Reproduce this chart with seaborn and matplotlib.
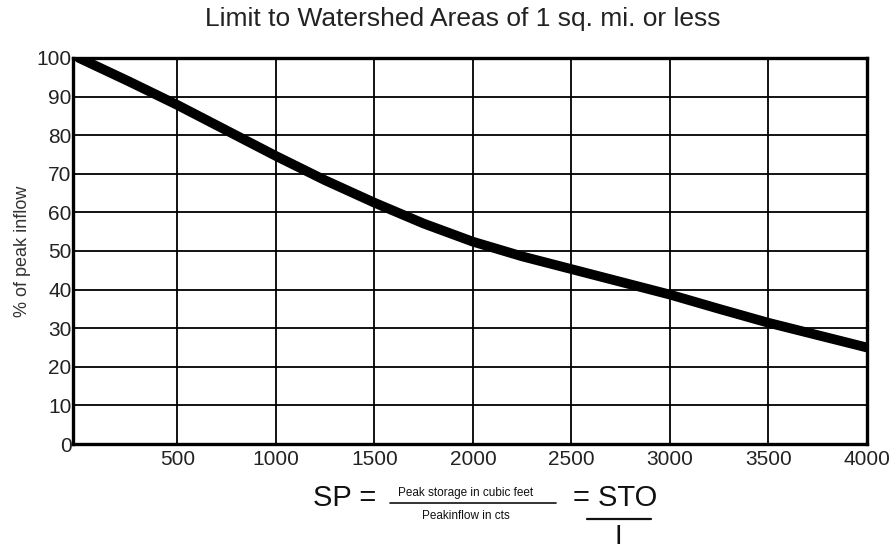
import matplotlib
matplotlib.use("Agg")
import matplotlib.pyplot as plt
import seaborn as sns
import pandas as pd
from matplotlib.lines import Line2D

# storage (x) vs % of peak inflow (y)
storage = [0, 250, 500, 750, 1000, 1250, 1500, 1750, 2000, 2250, 2500, 2750, 3000, 3250, 3500, 3750, 4000]
pct_inflow = [100, 94.0, 87.8, 81.2, 74.6, 68.3, 62.5, 57.1, 52.4, 48.6, 45.3, 42.0, 38.7, 35.0, 31.4, 28.2, 25.0]

x_ticks = [500, 1000, 1500, 2000, 2500, 3000, 3500, 4000]
y_ticks = list(range(0, 101, 10))

df = pd.DataFrame({"storage": storage, "pct": pct_inflow})

sns.set_style("white")
plt.rcParams['font.family'] = ['Liberation Sans', 'DejaVu Sans']

fig = plt.figure(figsize=(8.96, 5.5), dpi=100)
ax = fig.add_axes([0.0815, 0.1927, 0.886, 0.702])

sns.lineplot(data=df, x="storage", y="pct", ax=ax, color="black", linewidth=7,
             solid_capstyle="round", solid_joinstyle="round", zorder=5)

ax.set_xlim(-30, 4000)
ax.set_ylim(0, 100)
ax.set_xticks(x_ticks)
ax.set_yticks(y_ticks)
ax.set_xticklabels([str(t) for t in x_ticks], fontsize=15, color="#222222")
ax.set_yticklabels([str(t) for t in y_ticks], fontsize=15, color="#222222")
ax.tick_params(length=0, pad=1)
ax.tick_params(axis="x", pad=4)
ax.grid(True, color="black", linewidth=1.3)
for s in ax.spines.values():
    s.set_linewidth(2.4)
    s.set_color("black")
ax.set_xlabel("")
ax.set_ylabel("% of peak inflow", fontsize=13, color="#333333", labelpad=4)

fig.text(0.516, 0.965, "Limit to Watershed Areas of 1 sq. mi. or less",
         ha="center", va="center", fontsize=19, color="#222222")

# formula below the chart
fig.text(0.385, 0.095, "SP =", ha="center", va="center", fontsize=21, color="#111111")
fig.text(0.52, 0.103, "Peak storage in cubic feet", ha="center", va="center",
         fontsize=8.5, color="#111111")
fig.text(0.52, 0.062, "Peakinflow in cts", ha="center", va="center",
         fontsize=8.5, color="#111111")
fig.add_artist(Line2D([0.435, 0.62], [0.085, 0.085], color="#111111", linewidth=1.2,
                      transform=fig.transFigure))
fig.text(0.687, 0.095, "= STO", ha="center", va="center", fontsize=21, color="#111111")
fig.add_artist(Line2D([0.655, 0.727], [0.057, 0.057], color="#111111", linewidth=1.6,
                      transform=fig.transFigure))
fig.text(0.69, 0.024, "I", ha="center", va="center", fontsize=20, color="#111111")

fig.savefig("out.png", dpi=100)
